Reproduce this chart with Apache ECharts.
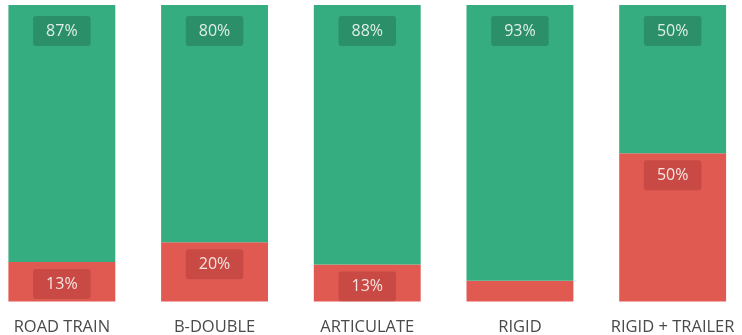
<!DOCTYPE html>
<html>
<head>
<meta charset="utf-8">
<script src="https://cdn.jsdelivr.net/npm/echarts@6/dist/echarts.min.js"></script>
<style>
  html, body { margin: 0; padding: 0; background: #fff; }
  #chart { width: 742px; height: 335px; }
</style>
</head>
<body>
<div id="chart"></div>
<script>
// Vehicle types and the share of each outcome (percent of vehicles)
const categories = ['ROAD TRAIN', 'B-DOUBLE', 'ARTICULATE', 'RIGID', 'RIGID + TRAILER'];
const greenShare = [86.7, 80, 87.5, 93, 50];
const redShare = [13.3, 20, 12.5, 7, 50];

const GREEN = '#36ad81';
const RED = '#e15a52';
const FONT = '"Open Sans", "Noto Sans", sans-serif';

function pctLabel(distance, bg) {
  return {
    show: true,
    position: 'insideTop',
    distance: distance,
    formatter: p => Math.round(p.value) + '%',
    color: 'rgba(255,255,255,0.85)',
    fontFamily: FONT,
    fontSize: 16,
    lineHeight: 18,
    backgroundColor: bg,
    borderRadius: 3,
    padding: [6, 13, 6, 13]
  };
}

// thin slices are left without a label
function withLabels(values) {
  return values.map(v => ({ value: v, label: { show: v >= 10 } }));
}

const chart = echarts.init(document.getElementById('chart'), null, { renderer: 'canvas' });
chart.setOption({
  animation: false,
  grid: {
    left: -14.5, width: 763.5, top: 5, bottom: 33.5,
    containLabel: false, outerBoundsMode: 'none'
  },
  xAxis: {
    type: 'category',
    data: categories,
    axisLine: { show: false },
    axisTick: { show: false },
    axisLabel: {
      interval: 0,
      hideOverlap: false,
      margin: 17,
      color: '#4a4a4a',
      fontFamily: FONT,
      fontSize: 16.5
    }
  },
  yAxis: {
    type: 'value',
    min: 0,
    max: 100,
    show: false,
    splitLine: { show: false }
  },
  series: [
    {
      name: 'red',
      type: 'bar',
      stack: 'share',
      barCategoryGap: '30%',
      data: withLabels(redShare),
      itemStyle: { color: RED },
      label: pctLabel(7, 'rgba(120,20,20,0.22)')
    },
    {
      name: 'green',
      type: 'bar',
      stack: 'share',
      barCategoryGap: '30%',
      data: withLabels(greenShare),
      itemStyle: { color: GREEN },
      label: pctLabel(11, 'rgba(10,60,40,0.25)')
    }
  ]
});
</script>
</body>
</html>
